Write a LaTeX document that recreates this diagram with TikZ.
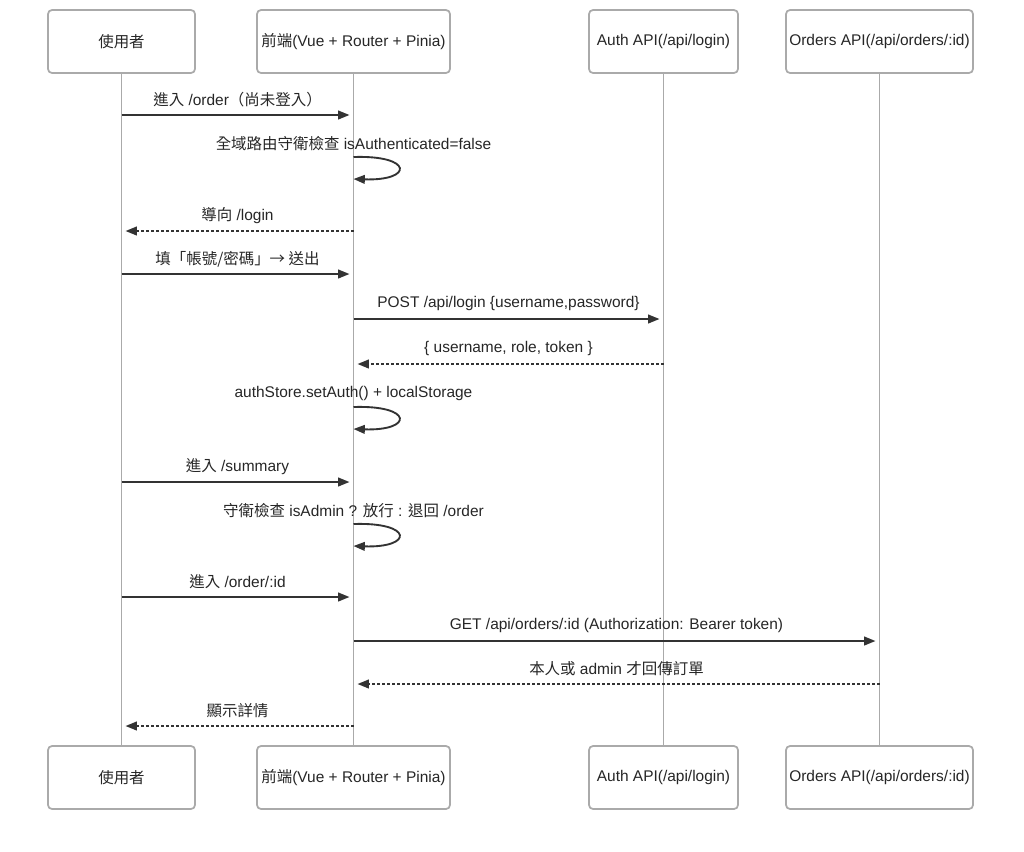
\documentclass[tikz,border=0pt]{standalone}
\usepackage{fontspec}
\setmainfont{Liberation Sans}
\newfontfamily\cjk{Noto Sans CJK TC}
\usetikzlibrary{arrows.meta}
\def\px{0.75pt}
\definecolor{boxgray}{HTML}{AAAAAA}
\definecolor{linegray}{HTML}{AAAAAA}
\definecolor{ink}{HTML}{333333}
\tikzset{
	actor/.style={draw=boxgray, line width=1.3pt, rounded corners=3pt, minimum height=63*\px, inner sep=0pt, font=\fontsize{11.6pt}{13pt}\selectfont, text=black!85},
	life/.style={draw=linegray, line width=1.3pt},
	msg/.style={draw=ink, line width=1.4pt, -{Triangle[length=8.5pt,width=6.5pt]}, shorten >=3pt},
	reply/.style={msg, dash pattern=on 2.25pt off 1.5pt},
	lbl/.style={midway, yshift=11.3pt, font=\fontsize{11.6pt}{13pt}\selectfont, text=black!85},
	note/.style={font=\fontsize{11.6pt}{13pt}\selectfont, text=black!85}
}

\begin{document}
\begin{tikzpicture}[x=\px, y=-\px]
		%%%%% START %%%%%
		\useasboundingbox (0,0) rectangle (1024,851);
		
		% actors, top and bottom
		\node[actor, minimum width=147*\px] (u1) at (121.5,41.5) {\cjk 使用者};
		\node[actor, minimum width=193*\px] (f1) at (353.5,41.5) {{\cjk 前端}(Vue + Router + Pinia)};
		\node[actor, minimum width=149*\px] (a1) at (663.5,41.5) {Auth API(/api/login)};
		\node[actor, minimum width=187*\px] (o1) at (879.5,41.5) {Orders API(/api/orders/:id)};
		
		\node[actor, minimum width=147*\px] (u2) at (121.5,777.5) {\cjk 使用者};
		\node[actor, minimum width=193*\px] (f2) at (353.5,777.5) {{\cjk 前端}(Vue + Router + Pinia)};
		\node[actor, minimum width=149*\px] (a2) at (663.5,777.5) {Auth API(/api/login)};
		\node[actor, minimum width=187*\px] (o2) at (879.5,777.5) {Orders API(/api/orders/:id)};
		
		% lifelines
		\draw[life] (u1) -- (u2);
		\draw[life] (f1) -- (f2);
		\draw[life] (a1) -- (a2);
		\draw[life] (o1) -- (o2);
		
		% messages
		\draw[msg] (u1 |- 0,115) -- node[lbl]{{\cjk 進入} /order{\cjk （尚未登入）}} (f1 |- 0,115);
		
		\node[note] (g1) at (f1 |- 0,144) {{\cjk 全域路由守衛檢查} isAuthenticated=false};
		\draw[msg, shorten >=0pt] (f1 |- 0,157) .. controls +(60,-2) and +(60,2) .. (f1 |- 0,179);
		
		\draw[reply] (f1 |- 0,231) -- node[lbl]{{\cjk 導向} /login} (u1 |- 0,231);
		\draw[msg] (u1 |- 0,274) -- node[lbl]{\cjk 填「帳號/密碼」→ 送出} (f1 |- 0,274);
		\draw[msg] (f1 |- 0,319) -- node[lbl]{POST /api/login \{username,password\}} (a1 |- 0,319);
		\draw[reply] (a1 |- 0,364) -- node[lbl]{\{ username, role, token \}} (f1 |- 0,364);
		
		\node[note] (g2) at (f1 |- 0,393) {authStore.setAuth() + localStorage};
		\draw[msg, shorten >=0pt] (f1 |- 0,407) .. controls +(60,-2) and +(60,2) .. (f1 |- 0,429);
		
		\draw[msg] (u1 |- 0,482) -- node[lbl]{{\cjk 進入} /summary} (f1 |- 0,482);
		
		\node[note] (g3) at (f1 |- 0,511) {{\cjk 守衛檢查} isAdmin ? {\cjk 放行} : {\cjk 退回} /order};
		\draw[msg, shorten >=0pt] (f1 |- 0,524) .. controls +(60,-2) and +(60,2) .. (f1 |- 0,546);
		
		\draw[msg] (u1 |- 0,597) -- node[lbl]{{\cjk 進入} /order/:id} (f1 |- 0,597);
		\draw[msg] (f1 |- 0,641) -- node[lbl]{GET /api/orders/:id (Authorization: Bearer token)} (o1 |- 0,641);
		\draw[reply] (o1 |- 0,684) -- node[lbl]{{\cjk 本人或} admin {\cjk 才回傳訂單}} (f1 |- 0,684);
		\draw[reply] (f1 |- 0,726) -- node[lbl]{\cjk 顯示詳情} (u1 |- 0,726);
		
		%%%%% END %%%%%
\end{tikzpicture}
\end{document}
